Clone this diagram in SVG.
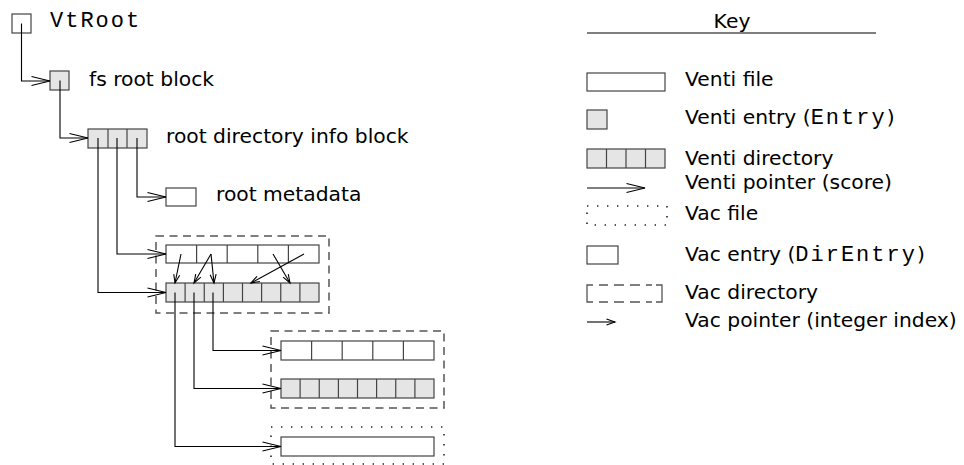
<svg xmlns="http://www.w3.org/2000/svg" width="964" height="465" viewBox="0 0 964 465">
<style>
text{font-family:"DejaVu Sans","Noto Sans",sans-serif;font-size:20.3px;fill:#000}
.mono{font-family:"Liberation Mono","DejaVu Sans Mono",monospace;font-size:22px;letter-spacing:2px}
.box{fill:#fff;stroke:#444;stroke-width:1.2}
.ent{fill:#e5e5e5;stroke:#444;stroke-width:1.2}
.div{stroke:#444;stroke-width:1.2;fill:none}
.dash{fill:none;stroke:#555;stroke-width:1.5;stroke-dasharray:8 5.5}
.kd{fill:none;stroke:#555;stroke-width:1.3}
.dot{fill:none;stroke:#222;stroke-width:1.6;stroke-dasharray:1.4 8.6}
.vp{fill:none;stroke:#000;stroke-width:1.1;marker-end:url(#vp)}
.ip{fill:none;stroke:#000;stroke-width:1.1;marker-end:url(#ip)}
</style>
<defs>
<marker id="vp" viewBox="-20 -6 22 12" refX="0" refY="0" markerWidth="22" markerHeight="12" markerUnits="userSpaceOnUse" orient="auto">
<path d="M-18.5,-4.5 L0,0 L-18.5,4.5" fill="none" stroke="#000" stroke-width="1.1"/>
</marker>
<marker id="ip" viewBox="-10 -5 12 10" refX="0" refY="0" markerWidth="12" markerHeight="10" markerUnits="userSpaceOnUse" orient="auto">
<path d="M-8.5,-3 L0,0 L-8.5,3" fill="none" stroke="#000" stroke-width="1.1"/>
</marker>
</defs>

<g id="vtroot">
<rect class="box" x="12" y="14" width="19" height="19"/>
<text class="mono" x="50" y="27">VtRoot</text>
</g>

<g id="fsroot">
<rect class="ent" x="50" y="71" width="19" height="19"/>
<text x="89" y="85.5">fs root block</text>
</g>

<g id="rootdir">
<rect class="ent" x="88" y="129" width="59" height="19"/>
<path class="div" d="M108,129V148M127,129V148"/>
<text x="166" y="143">root directory info block</text>
</g>

<g id="rootmeta">
<rect class="box" x="166" y="188" width="30" height="18"/>
<text x="216" y="201">root metadata</text>
</g>

<g id="vacdir1">
<rect class="dash" x="156" y="236" width="173" height="77"/>
<rect class="box" x="166" y="245" width="153" height="18"/>
<path class="div" d="M196.6,245V263M227.2,245V263M257.8,245V263M288.4,245V263"/>
<rect class="ent" x="166" y="283" width="153" height="19"/>
<path class="div" d="M185.1,283V302M204.25,283V302M223.4,283V302M242.5,283V302M261.6,283V302M280.75,283V302M299.9,283V302"/>
</g>

<g id="vacdir2">
<rect class="dash" x="271" y="331" width="173" height="77"/>
<rect class="box" x="281" y="341" width="153" height="19"/>
<path class="div" d="M311.6,341V360M342.2,341V360M372.8,341V360M403.4,341V360"/>
<rect class="ent" x="281" y="379" width="153" height="19"/>
<path class="div" d="M300.1,379V398M319.25,379V398M338.4,379V398M357.5,379V398M376.6,379V398M395.75,379V398M414.9,379V398"/>
</g>

<g id="vacfile">
<rect class="dot" x="271" y="427" width="173" height="37"/>
<rect class="box" x="281" y="437" width="153" height="19"/>
</g>

<g id="connectors">
<path class="vp" d="M21.5,23.5V81H50"/>
<path class="vp" d="M60,80.5V138H88"/>
<path class="vp" d="M137,138V197H166"/>
<path class="vp" d="M117,138V254H166"/>
<path class="vp" d="M98,138V292.5H166"/>
<path class="ip" d="M181,254L175,283"/>
<path class="ip" d="M211,254L194,283"/>
<path class="ip" d="M211,254L214,283"/>
<path class="ip" d="M273,254L290,283"/>
<path class="ip" d="M304,254L251,283"/>
<path class="vp" d="M213,292.5V350.5H281"/>
<path class="vp" d="M194,292.5V388.5H281"/>
<path class="vp" d="M175,292.5V446.5H281"/>
</g>

<g id="key">
<text x="732" y="28" text-anchor="middle">Key</text>
<line x1="587" y1="33" x2="876" y2="33" stroke="#000" stroke-width="1.1"/>
<g id="key-venti-file">
<rect class="box" x="587" y="73" width="78" height="18"/>
<text x="685" y="86">Venti file</text>
</g>
<g id="key-venti-entry">
<rect class="ent" x="587" y="110" width="20" height="19"/>
<text x="685" y="124">Venti entry (<tspan class="mono">Entry</tspan>)</text>
</g>
<g id="key-venti-dir">
<rect class="ent" x="587" y="149" width="78" height="19"/>
<path class="div" d="M606.5,149V168M626,149V168M645.5,149V168"/>
<text x="685" y="165">Venti directory</text>
</g>
<g id="key-venti-ptr">
<path class="vp" d="M587,188H645"/>
<text x="685" y="189">Venti pointer (score)</text>
</g>
<g id="key-vac-file">
<rect class="dot" x="587" y="206" width="80" height="19"/>
<text x="685" y="220">Vac file</text>
</g>
<g id="key-vac-entry">
<rect class="box" x="587" y="246" width="31" height="18"/>
<text x="685" y="261">Vac entry (<tspan class="mono">DirEntry</tspan>)</text>
</g>
<g id="key-vac-dir">
<path class="kd" d="M593,285H587V302H593M656,285H662V302H656M599,285H608M614,285H624M630,285H640M646,285H652M599,302H608M614,302H624M630,302H640M646,302H652"/>
<text x="685" y="299">Vac directory</text>
</g>
<g id="key-vac-ptr">
<path class="ip" d="M587,322H615"/>
<text x="685" y="327">Vac pointer (integer index)</text>
</g>
</g>
</svg>
